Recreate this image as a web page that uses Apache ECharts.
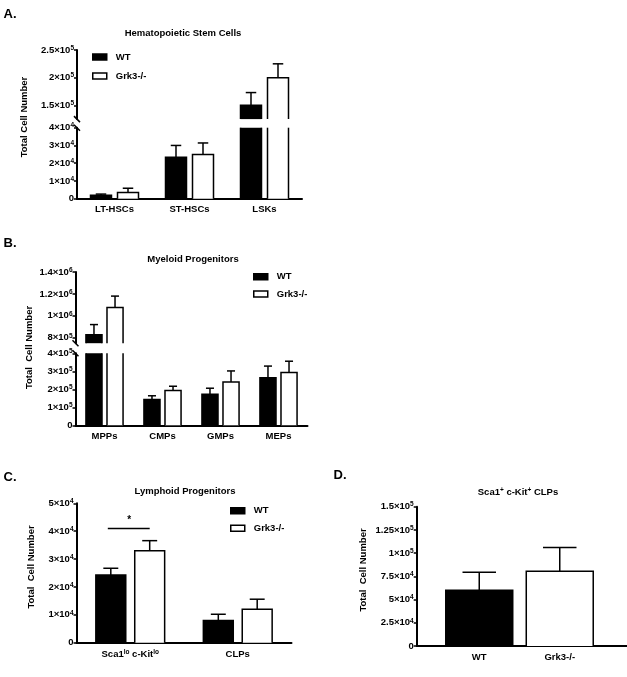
<!DOCTYPE html>
<html><head><meta charset="utf-8">
<script src="https://cdn.jsdelivr.net/npm/echarts@6/dist/echarts.min.js"></script>
<style>html,body{margin:0;padding:0;background:#fff}#c{width:627px;height:677px}</style>
</head><body><div id="c"></div>
<script>
// ---------- Panel A: Hematopoietic Stem Cells ----------
const catsA = ['LT-HSCs', 'ST-HSCs', 'LSKs'];
const wtA = [2000, 23300, 150000];
const wtErrA = [600, 6700, 23000];
const koA = [3500, 24900, 200000];
const koErrA = [2400, 6500, 25000];
const ticksAUpper = [150000, 200000, 250000];
// ---------- Panel B: Myeloid Progenitors ----------
const catsB = ['MPPs', 'CMPs', 'GMPs', 'MEPs'];
const wtB = [827000, 144000, 172000, 264000];
const wtErrB = [93000, 20000, 34000, 65000];
const koB = [1075000, 194000, 241000, 294000];
const koErrB = [105000, 23000, 61000, 62000];
const ticksBUpper = [800000, 1000000, 1200000, 1400000];
// ---------- Panel C: Lymphoid Progenitors ----------
const catsC = ['Sca1lo c-Kitlo', 'CLPs'];
const wtC = [24300, 8000];
const wtErrC = [2400, 2200];
const koC = [33000, 12000];
const koErrC = [3600, 3600];
const sigC = [41000];
// ---------- Panel D: Sca1+ c-Kit+ CLPs ----------
const catsD = ['WT', 'Grk3-/-'];
const valD = [60000, 80400];
const errD = [19400, 25600];

const FONT = "'Liberation Sans', Arial, sans-serif";
const BLACK = '#000', WHITE = '#fff';
const fillsD = [BLACK, WHITE];

function sci(v) {
  if (v === 0) return '0';
  const e = Math.floor(Math.log10(v) + 1e-9);
  const m = +(v / Math.pow(10, e)).toFixed(3);
  return m + '×10{s|' + e + '}';
}
const supRich = {s: {fontSize: 6.5, fontWeight: 'bold', fontFamily: FONT, color: BLACK, lineHeight: 6, verticalAlign: 'top'}};
const labelBase = {color: BLACK, fontFamily: FONT, fontWeight: 'bold', fontSize: 9.5};

function geom(api, cat, n, idx, catGap, barGap) {
  const band = api.size([1, 0])[0];
  const totalW = band * (1 - catGap);
  const bw = totalW / (n + (n - 1) * barGap);
  const c = api.coord([cat, 0]);
  const cx = c[0] - totalW / 2 + idx * bw * (1 + barGap) + bw / 2;
  return {cx, bw};
}

function barRenderer(n, idx, catGap, barGap, fillFn) {
  return function (params, api) {
    const cs = params.coordSys;
    const cat = api.value(0), v = api.value(1), e = api.value(2);
    const g = geom(api, cat, n, idx, catGap, barGap);
    const top = cs.y, bottom = cs.y + cs.height;
    const children = [];
    const yv = api.coord([cat, v])[1];
    if (yv >= bottom) return {type: 'group', children};
    const y0 = Math.min(api.coord([cat, 0])[1], bottom);
    const yt = Math.max(yv, top);
    const x0 = g.cx - g.bw / 2, x1 = g.cx + g.bw / 2;
    const fill = fillFn(params.dataIndex);
    children.push({type: 'rect', shape: {x: x0, y: yt, width: g.bw, height: y0 - yt}, style: {fill: fill}});
    const ls = {stroke: BLACK, lineWidth: 1.5, fill: null};
    if (yv >= top) {
      children.push({type: 'polyline', shape: {points: [[x0, y0], [x0, yt], [x1, yt], [x1, y0]]}, style: ls});
      const ye = api.coord([cat, v + e])[1];
      if (ye >= top - 1) {
        const cap = g.bw * 0.5;
        children.push({type: 'line', shape: {x1: g.cx, y1: yv, x2: g.cx, y2: ye}, style: ls});
        children.push({type: 'line', shape: {x1: g.cx - cap / 2, y1: ye, x2: g.cx + cap / 2, y2: ye}, style: ls});
      }
    } else {
      children.push({type: 'line', shape: {x1: x0, y1: y0, x2: x0, y2: yt}, style: ls});
      children.push({type: 'line', shape: {x1: x1, y1: y0, x2: x1, y2: yt}, style: ls});
    }
    return {type: 'group', children};
  };
}

function triples(vals, errs) { return vals.map((v, i) => [i, v, errs[i]]); }

const grids = [
  {left: 77, top: 50, width: 225, height: 69.1},      // 0 A upper
  {left: 77, top: 127.7, width: 225, height: 71},     // 1 A lower
  {left: 75.5, top: 272, width: 232, height: 71.2},   // 2 B upper
  {left: 75.5, top: 353.3, width: 232, height: 72},   // 3 B lower
  {left: 76.5, top: 503.3, width: 215, height: 139.4},// 4 C
  {left: 416.7, top: 506.7, width: 210.3, height: 139.3}, // 5 D axes
  {left: 439, top: 506.7, width: 161, height: 139.3}  // 6 D bars
];

const axisLineStyle = {lineStyle: {color: BLACK, width: 2}};
function catX(gi, data, show, extra) {
  return Object.assign({
    type: 'category', gridIndex: gi, data: data, show: show,
    axisLine: axisLineStyle, axisTick: {show: false},
    axisLabel: Object.assign({interval: 0, margin: 6}, labelBase)
  }, extra || {});
}
function valY(gi, min, max, interval, custom, extra) {
  const o = {
    type: 'value', gridIndex: gi, min: min, max: max, interval: interval,
    axisLine: {show: true, lineStyle: {color: BLACK, width: 2}},
    axisTick: {show: true, length: 3, lineStyle: {color: BLACK, width: 1.5}},
    axisLabel: Object.assign({margin: 3, formatter: sci, rich: supRich, lineHeight: 11}, labelBase),
    splitLine: {show: false}
  };
  if (custom) { o.axisTick.customValues = custom; o.axisLabel.customValues = custom; }
  return Object.assign(o, extra || {});
}

const xAxes = [
  catX(0, catsA, false),
  catX(1, catsA, true),
  catX(2, catsB, false),
  catX(3, catsB, true),
  catX(4, catsC, true, {axisLabel: Object.assign({interval: 0, margin: 6, lineHeight: 11,
    formatter: v => v.replace(/lo/g, '{s|lo}'), rich: supRich}, labelBase)}),
  {type: 'value', gridIndex: 5, min: 0, max: 1, axisLine: axisLineStyle, axisTick: {show: false}, axisLabel: {show: false}, splitLine: {show: false}},
  catX(6, catsD, true, {axisLine: {show: false}})
];
const yAxes = [
  valY(0, 125000, 250000, 25000, ticksAUpper),
  valY(1, 0, 40000, 10000),
  valY(2, 750000, 1400000, 50000, ticksBUpper),
  valY(3, 0, 400000, 100000),
  valY(4, 0, 50000, 10000),
  valY(5, 0, 150000, 25000),
  valY(6, 0, 150000, 25000, null, {show: false})
];

const wtStyle = {color: BLACK, borderColor: BLACK, borderWidth: 1.5};
const koStyle = {color: WHITE, borderColor: BLACK, borderWidth: 1.5};
function pair(xi, wt, wtE, ko, koE, catGap, barGap) {
  return [
    {type: 'custom', name: 'WT', xAxisIndex: xi, yAxisIndex: xi, encode: {x: 0, y: 1}, itemStyle: wtStyle,
      data: triples(wt, wtE), renderItem: barRenderer(2, 0, catGap, barGap, () => BLACK)},
    {type: 'custom', name: 'Grk3-/-', xAxisIndex: xi, yAxisIndex: xi, encode: {x: 0, y: 1}, itemStyle: koStyle,
      data: triples(ko, koE), renderItem: barRenderer(2, 1, catGap, barGap, () => WHITE)}
  ];
}

const series = [].concat(
  pair(0, wtA, wtErrA, koA, koErrA, 0.36, 0.286),
  pair(1, wtA, wtErrA, koA, koErrA, 0.36, 0.286),
  pair(2, wtB, wtErrB, koB, koErrB, 0.36, 0.31),
  pair(3, wtB, wtErrB, koB, koErrB, 0.36, 0.31),
  pair(4, wtC, wtErrC, koC, koErrC, 0.36, 0.3),
  [{type: 'custom', name: 'sig', xAxisIndex: 4, yAxisIndex: 4, encode: {x: 0, y: 1},
    data: sigC.map(v => [0, v]),
    renderItem: function (params, api) {
      const y = api.coord([0, api.value(1)])[1];
      const a = geom(api, 0, 2, 0, 0.36, 0.3), b = geom(api, 0, 2, 1, 0.36, 0.3);
      return {type: 'group', children: [
        {type: 'line', shape: {x1: a.cx - 3, y1: y, x2: b.cx, y2: y}, style: {stroke: BLACK, lineWidth: 1.5}},
        {type: 'text', x: (a.cx + b.cx) / 2 - 1, y: y - 8, style: {text: '*', fill: BLACK, font: 'bold 10px ' + FONT, align: 'center', verticalAlign: 'middle'}}
      ]};
    }},
   {type: 'custom', name: 'D', xAxisIndex: 6, yAxisIndex: 6, encode: {x: 0, y: 1},
    data: triples(valD, errD), renderItem: barRenderer(1, 0, 0.168, 0, i => fillsD[i])}]
);

function legend(left, top, gap) {
  return {
    left: left, top: top, orient: 'vertical', padding: 0, itemGap: gap, selectedMode: false,
    itemWidth: 14, itemHeight: 6, icon: 'rect',
    textStyle: Object.assign({lineHeight: 12, padding: [0, 0, 0, 4]}, labelBase),
    data: [{name: 'WT', itemStyle: wtStyle}, {name: 'Grk3-/-', itemStyle: koStyle}]
  };
}

function txt(text, x, y, size, extra) {
  return Object.assign({type: 'text', x: x, y: y, silent: true,
    style: {text: text, fill: BLACK, font: 'bold ' + size + 'px ' + FONT, align: 'center', verticalAlign: 'middle', lineHeight: 11, rich: supRich}}, extra || {});
}
function vtxt(text, x, y) { return txt(text, x, y, 9.5, {rotation: Math.PI / 2}); }
function brk(x, y) {
  return {type: 'line', silent: true, shape: {x1: x - 3, y1: y - 3, x2: x + 3, y2: y + 3}, style: {stroke: BLACK, lineWidth: 1.5}};
}

const graphic = [
  txt('A.', 10, 14, 13), txt('B.', 10, 243, 13), txt('C.', 10, 477, 13), txt('D.', 340, 475, 13),
  txt('Hematopoietic Stem Cells', 183, 33, 9.5),
  txt('Myeloid Progenitors', 193, 259, 9.5),
  txt('Lymphoid Progenitors', 185, 491, 9.5),
  txt('Sca1{s|+} c-Kit{s|+} CLPs', 518, 492, 9.5),
  vtxt('Total Cell Number', 24, 117),
  vtxt('Total  Cell Number', 29.5, 347.5),
  vtxt('Total  Cell Number', 31.5, 567),
  vtxt('Total  Cell Number', 363.5, 570),
  brk(77, 119.1), brk(77, 127.7),
  brk(75.5, 343.2), brk(75.5, 353.3)
];

const chart = echarts.init(document.getElementById('c'));
chart.setOption({
  backgroundColor: '#fff',
  animation: false,
  grid: grids,
  xAxis: xAxes,
  yAxis: yAxes,
  legend: [legend(92, 51, 7), legend(253, 270.7, 5.3), legend(230, 504.7, 5.6)],
  series: series,
  graphic: graphic
});
</script></body></html>
